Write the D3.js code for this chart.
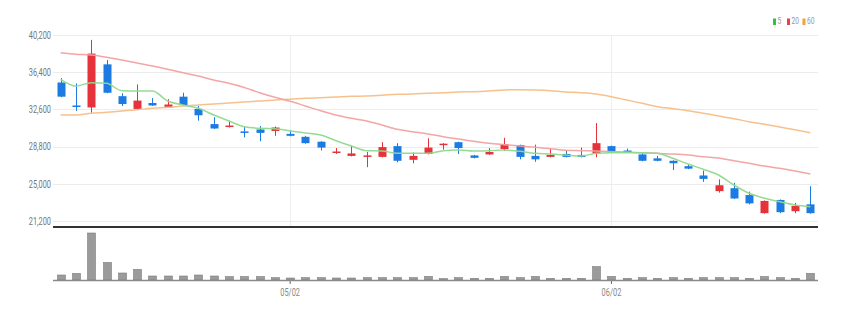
<!DOCTYPE html>
<html>
<head>
<meta charset="utf-8">
<script src="https://cdn.jsdelivr.net/npm/d3@7"></script>
<style>
  html, body { margin: 0; padding: 0; background: #fff; }
  svg { display: block; }
  .lbl { font-family: Roboto, "Liberation Sans", sans-serif; }
</style>
</head>
<body>
<svg id="chart" width="847" height="315"></svg>
<script>
const dates = ["04/10","04/11","04/12","04/13","04/14","04/17","04/18","04/19","04/20","04/21",
  "04/24","04/25","04/26","04/27","04/28","05/02","05/03","05/04","05/08","05/09",
  "05/10","05/11","05/12","05/15","05/16","05/17","05/18","05/19","05/22","05/23",
  "05/24","05/25","05/26","05/30","05/31","06/01","06/02","06/05","06/07","06/08",
  "06/09","06/12","06/13","06/14","06/15","06/16","06/19","06/20","06/21","06/22"];
const opens  = [35350,33000,32800,37200,33950,32650,33250,32800,33900,32650,
  31100,30800,30350,30550,30400,30100,29800,29300,28150,27850,
  27750,27750,28850,27450,28050,28950,29250,27900,28000,28550,
  28950,27850,27750,28050,27950,28100,28850,28400,28000,27600,
  27350,26800,25850,24250,24550,23850,22000,23350,22200,22900];
const highs  = [35800,35250,39700,37650,34250,35150,33750,33650,34300,32950,
  31800,31450,30850,30900,30850,30450,29900,29350,28650,28900,
  28250,29250,29150,28200,29650,29150,29300,27950,28650,29700,
  29000,29000,28600,28350,28700,31200,28900,28600,28150,27850,
  27400,26950,26350,25450,25100,24200,23300,23400,23050,24750];
const lows   = [33850,32450,32250,34250,32950,32550,32950,32750,33000,31450,
  30600,30750,29750,29350,29900,29850,29100,28400,28050,27800,
  26700,27700,27200,27100,28000,28500,28050,27600,27950,28350,
  27500,27250,27700,27700,27700,27700,28150,28150,27300,27300,
  26400,26500,25200,24100,23450,22900,21950,22000,22000,21950];
const closes = [33900,32850,38300,34300,33150,33500,33000,33100,33050,32000,
  30650,30950,30200,30200,30750,29900,29150,28700,28300,28100,
  27900,28750,27350,27850,28700,29100,28650,27650,28250,29050,
  27750,27500,27950,27750,27750,29150,28200,28200,27350,27350,
  27100,26550,25500,24850,23500,23000,23250,22100,22750,22000];
const volumes = [250000,330000,2350000,880000,350000,530000,200000,200000,200000,250000,
  200000,170000,170000,170000,120000,100000,120000,120000,100000,100000,
  120000,120000,120000,120000,180000,70000,120000,85000,85000,180000,
  120000,180000,85000,85000,85000,670000,180000,85000,120000,85000,
  120000,85000,120000,120000,120000,85000,170000,120000,85000,330000];
const ma5  = [35675,34990,35327,35266,34510,34480,34480,33458,33050,32712,
  32028,31415,30833,30670,30629,30400,30190,29985,29403,28862,
  28381,28351,28116,28116,28116,28381,28453,28351,28381,28453,
  28320,28116,28044,27942,27840,28116,28177,28177,28177,28116,
  27605,27023,26482,25899,24878,24030,23519,23172,22835,22661];
const ma20 = [38392,38228,38157,37922,37646,37340,37034,36697,36350,36013,
  35604,35266,34838,34306,33836,33427,32947,32467,32028,31691,
  31415,31007,30567,30322,30087,29811,29576,29341,29137,28994,
  28861,28729,28586,28422,28381,28351,28279,28248,28177,28116,
  28044,27942,27769,27636,27360,27095,26819,26584,26308,26001];
const ma60 = [32028,32028,32202,32304,32437,32569,32712,32814,32947,33050,
  33152,33254,33356,33458,33560,33642,33734,33795,33867,33938,
  33969,34040,34143,34173,34245,34306,34378,34408,34480,34582,
  34612,34582,34510,34378,34306,34173,33897,33560,33223,32876,
  32672,32467,32202,31926,31650,31343,31078,30802,30526,30220];
const priceTicks = [21200,25000,28800,32600,36400,40200];
const xTickLabels = ["05/02","06/02"];
const legendLabels = ["5","20","60"];

const svg = d3.select("#chart");
const L = 53, R = 818;
const UP = "#e5323b", DOWN = "#1b7be2";
const maColors = ["#8ed98e", "#f3a0a0", "#f5be86"];
const legendColors = ["#2dc53a", "#e8414a", "#f0a23e"];
const NARROW = 0.74;

const idx = dates.map((d, i) => i);
const x = d3.scaleBand().domain(idx).range([L, R]).padding(0);
const cx = i => x(i) + x.bandwidth() / 2;
const y = d3.scaleLinear().domain([21200, 40200]).range([221, 35]);
const yv = d3.scaleLinear().domain([0, 2400000]).range([280, 232]);

// horizontal gridlines
svg.append("g").selectAll("line").data(priceTicks).join("line")
  .attr("x1", L).attr("x2", R)
  .attr("y1", d => Math.round(y(d)) + 0.5).attr("y2", d => Math.round(y(d)) + 0.5)
  .attr("stroke", "#ececec").attr("stroke-width", 1);

// vertical gridlines at labelled dates
const tickIdx = xTickLabels.map(t => dates.indexOf(t));
svg.append("g").selectAll("line").data(tickIdx).join("line")
  .attr("x1", d => Math.round(cx(d)) + 0.5).attr("x2", d => Math.round(cx(d)) + 0.5)
  .attr("y1", 35).attr("y2", 226)
  .attr("stroke", "#eeeeee").attr("stroke-width", 1);

// y axis labels
const yAxis = d3.axisLeft(y).tickValues(priceTicks).tickFormat(d3.format(",")).tickSize(0).tickPadding(0);
const yg = svg.append("g").attr("transform", `translate(${L - 2},0)`).call(yAxis);
yg.select(".domain").remove();
yg.selectAll("text").attr("class", "lbl").attr("fill", "#777").style("font-size", "10px");

// price/volume separator
svg.append("line").attr("x1", L).attr("x2", R).attr("y1", 227).attr("y2", 227)
  .attr("stroke", "#333").attr("stroke-width", 2);

// candles
const cg = svg.append("g");
idx.forEach(i => {
  const up = closes[i] >= opens[i];
  const col = up ? UP : DOWN;
  const xc = Math.round(cx(i)) + 0.5;
  cg.append("line").attr("x1", xc).attr("x2", xc)
    .attr("y1", y(highs[i])).attr("y2", y(lows[i]))
    .attr("stroke", col).attr("stroke-width", 1);
  const top = y(Math.max(opens[i], closes[i]));
  const bot = y(Math.min(opens[i], closes[i]));
  cg.append("rect").attr("x", xc - 4).attr("width", 8)
    .attr("y", top).attr("height", Math.max(1.5, bot - top))
    .attr("fill", col);
});

// moving averages
const line = d3.line().x((d, i) => cx(i)).y(d => y(d)).curve(d3.curveMonotoneX);
[ma60, ma20, ma5].forEach((s, k) => {
  svg.append("path").attr("d", line(s)).attr("fill", "none")
    .attr("stroke", maColors[2 - k]).attr("stroke-width", 1.5).attr("opacity", 0.95);
});

// volume bars
svg.append("g").selectAll("rect").data(volumes).join("rect")
  .attr("x", (d, i) => Math.round(cx(i)) - 4 + 0.5).attr("width", 8)
  .attr("y", d => yv(d)).attr("height", d => 280 - yv(d))
  .attr("fill", "#9b9b9b").attr("stroke", "#7d7d7d").attr("stroke-width", 0.6);

// volume baseline & x axis
const xAxis = d3.axisBottom(x).tickValues(tickIdx).tickFormat(i => dates[i]).tickSize(4).tickPadding(5);
const xg = svg.append("g").attr("transform", "translate(0,280)").call(xAxis);
xg.select(".domain").remove();
xg.selectAll(".tick line").attr("stroke", "#666");
xg.selectAll("text").attr("class", "lbl").attr("fill", "#888").style("font-size", "10px");
svg.append("line").attr("x1", L).attr("x2", R).attr("y1", 280.5).attr("y2", 280.5)
  .attr("stroke", "#8a8a8a").attr("stroke-width", 1.5);

// legend
const lx = [773, 787, 802.5];
const lg = svg.append("g");
legendLabels.forEach((t, k) => {
  lg.append("rect").attr("x", lx[k]).attr("y", 18.5).attr("width", 3).attr("height", 6.5)
    .attr("fill", legendColors[k]);
  lg.append("text").attr("class", "lbl").attr("x", lx[k] + 4.5).attr("y", 21.8)
    .attr("dominant-baseline", "middle").attr("fill", "#999").style("font-size", "9px").text(t);
});

// condense all label text to mimic the narrow font of the original
svg.selectAll("text.lbl").each(function () {
  const w = this.getComputedTextLength();
  d3.select(this).attr("textLength", (w * NARROW).toFixed(2)).attr("lengthAdjust", "spacingAndGlyphs");
});
</script>
</body>
</html>
